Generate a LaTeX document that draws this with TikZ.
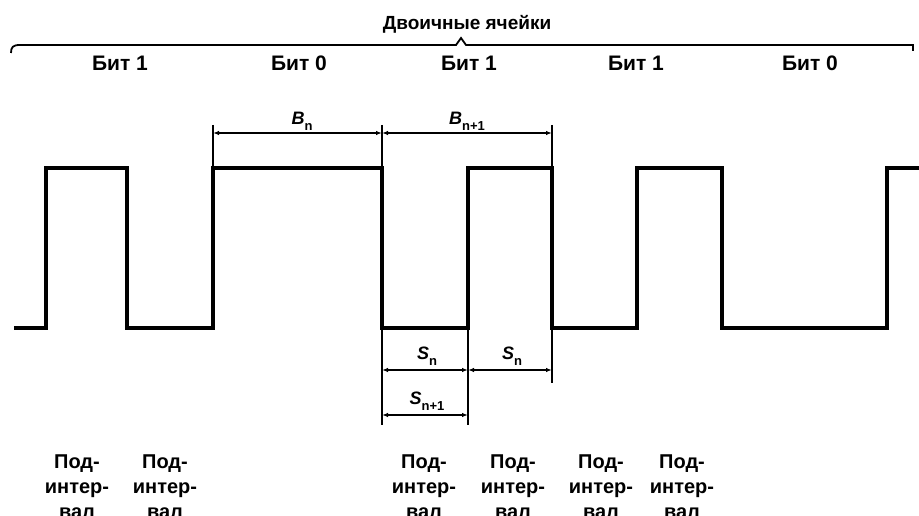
\documentclass[tikz,border=0pt]{standalone}
\usepackage{fontspec}
\setmainfont{Liberation Sans}
\usetikzlibrary{arrows.meta}
\begin{document}
\begin{tikzpicture}[x=1pt,y=-1pt,
  wave/.style={line width=3.6pt,line join=miter,line cap=butt},
  ext/.style={line width=2pt},
  dim/.style={line width=1.3pt,{Latex[length=6pt,width=4.5pt]}-{Latex[length=6pt,width=4.5pt]}},
  brc/.style={line width=1.8pt},
  ttl/.style={font=\fontsize{19}{20}\selectfont\bfseries,inner sep=0pt},
  lbl/.style={font=\fontsize{21}{22}\selectfont\bfseries,inner sep=0pt},
  sub/.style={font=\fontsize{20}{25}\selectfont\bfseries,inner sep=0pt,align=center},
  var/.style={font=\fontsize{18}{20}\selectfont\bfseries\itshape,inner sep=0pt}]
\useasboundingbox (0,0) rectangle (919,516);
% brace
\draw[brc] (11,53) .. controls (11,47) and (13,45) .. (20,45) -- (456,45) -- (461,38) -- (466,45) -- (913,45) -- (913,51);
\node[ttl] (title) at (467,24) {Двоичные ячейки};
% bit labels
\node[lbl] (b1) at (120,63) {Бит 1};
\node[lbl] (b2) at (299,63) {Бит 0};
\node[lbl] (b3) at (469,63) {Бит 1};
\node[lbl] (b4) at (636,63) {Бит 1};
\node[lbl] (b5) at (810,63) {Бит 0};
% waveform
\draw[wave] (14,328) -- (46,328) -- (46,168) -- (127,168) -- (127,328) -- (213,328) -- (213,168) -- (382,168) -- (382,328) -- (468,328) -- (468,168) -- (552,168) -- (552,328) -- (637,328) -- (637,168) -- (722,168) -- (722,328) -- (887,328) -- (887,168) -- (919,168);
% coordinates for dimensions
\coordinate (eA) at (213,125);
\coordinate (eB) at (382,125);
\coordinate (eC) at (552,125);
\coordinate (dA) at (213,133);
\coordinate (dB) at (382,133);
\coordinate (dC) at (552,133);
\draw[ext] (eA) -- (213,168);
\draw[ext] (eB) -- (382,168);
\draw[ext] (eC) -- (552,168);
\draw[dim] (dA) -- (dB);
\draw[dim] (dB) -- (dC);
\node[var,anchor=south] (Bn) at (302,131) {B\raisebox{-0.35em}{\fontsize{13}{13}\selectfont\upshape n}};
\node[var,anchor=south] (Bn1) at (467,131) {B\raisebox{-0.35em}{\fontsize{13}{13}\selectfont\upshape n+1}};
% S dimensions
\coordinate (fA) at (382,425);
\coordinate (fB) at (468,425);
\coordinate (fC) at (552,383);
\draw[ext] (382,328) -- (fA);
\draw[ext] (468,328) -- (fB);
\draw[ext] (552,328) -- (fC);
\coordinate (sA) at (382,370);
\coordinate (sB) at (468,370);
\coordinate (sC) at (552,370);
\coordinate (tA) at (382,415);
\coordinate (tB) at (468,415);
\draw[dim] (sA) -- (sB);
\draw[dim] (sB) -- (sC);
\draw[dim] (tA) -- (tB);
\node[var,anchor=south] (Sn) at (427,366) {S\raisebox{-0.35em}{\fontsize{13}{13}\selectfont\upshape n}};
\node[var,anchor=south] (Sn2) at (512,366) {S\raisebox{-0.35em}{\fontsize{13}{13}\selectfont\upshape n}};
\node[var,anchor=south] (Sn1) at (427,411) {S\raisebox{-0.35em}{\fontsize{13}{13}\selectfont\upshape n+1}};
% sub-interval labels
\foreach \x/\n in {77/p1,165/p2,424/p3,513/p4,601/p5,682/p6}
  \node[sub,anchor=north] (\n) at (\x,455) {Под-\\интер-\\вал};
\end{tikzpicture}
\end{document}
